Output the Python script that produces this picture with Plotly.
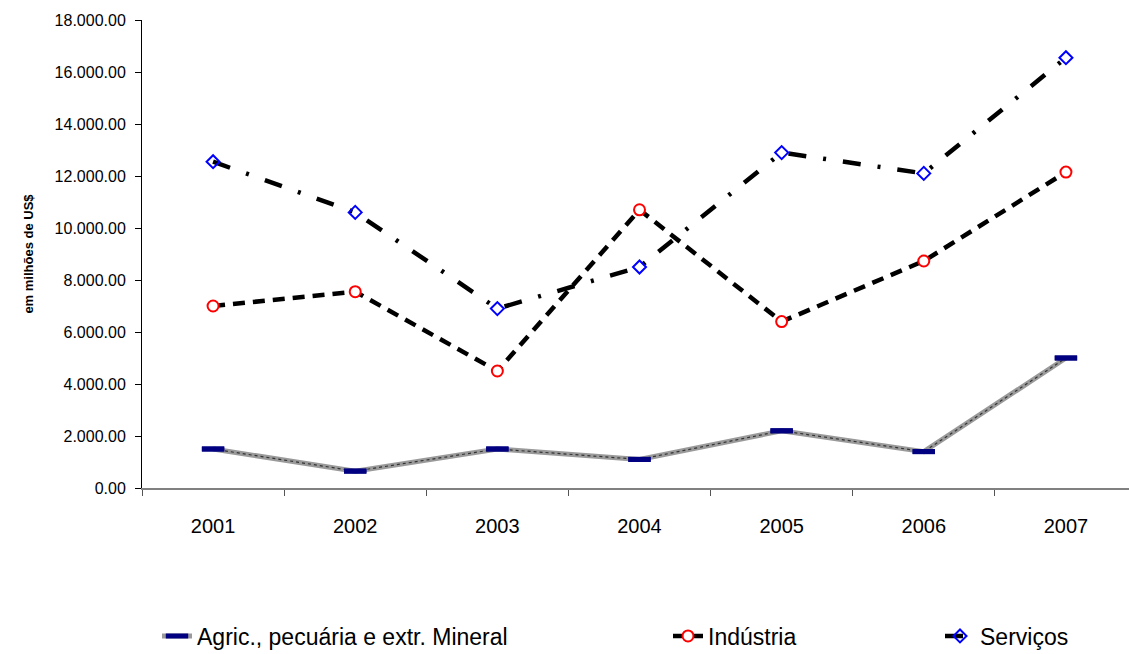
import plotly.graph_objects as go

years = ["2001", "2002", "2003", "2004", "2005", "2006", "2007"]
agric = [1500, 650, 1500, 1100, 2200, 1400, 5000]
industria = [7000, 7550, 4500, 10700, 6400, 8730, 12150]
servicos = [12550, 10600, 6900, 8500, 12900, 12100, 16550]

y_ticks = [0, 2000, 4000, 6000, 8000, 10000, 12000, 14000, 16000, 18000]
y_tick_text = ["0.00", "2.000.00", "4.000.00", "6.000.00", "8.000.00", "10.000.00",
               "12.000.00", "14.000.00", "16.000.00", "18.000.00"]

fig = go.Figure()

# Agric: grey outer line with dotted inner line
fig.add_trace(go.Scatter(
    x=years, y=agric, mode="lines+markers", name="Agric., pecuária e extr. Mineral",
    line=dict(color="#9a9a9a", width=5),
    marker=dict(symbol="line-ew", size=16, line=dict(color="#000080", width=5)),
    legend="legend",
))
fig.add_trace(go.Scatter(
    x=years, y=agric, mode="lines", showlegend=False, hoverinfo="skip",
    line=dict(color="#333333", width=1.2, dash="dot"),
))
fig.add_trace(go.Scatter(
    x=years, y=agric, mode="markers", showlegend=False, hoverinfo="skip",
    marker=dict(symbol="line-ew", size=16, line=dict(color="#000080", width=5)),
))

fig.add_trace(go.Scatter(
    x=years, y=industria, mode="lines+markers", name="Indústria",
    line=dict(color="black", width=4.5, dash="12px,8px"),
    marker=dict(symbol="circle", size=11, color="white", line=dict(color="#ff0000", width=2)),
    legend="legend2",
))

fig.add_trace(go.Scatter(
    x=years, y=servicos, mode="lines+markers", name="Serviços",
    line=dict(color="black", width=4.5, dash="18px,17px,3px,17px"),
    marker=dict(symbol="diamond-open", size=10, color="#0000ff", line=dict(color="#0000ff", width=2)),
    legend="legend3",
))

L, R, T, B = 142, 0, 20, 166
W, H = 1129, 654
pw = W - L - R
ph = H - T - B

def px_x(px):
    return (px - L) / pw

def px_y(py):
    return (H - B - py) / ph

legend_common = dict(
    orientation="h", yanchor="middle", xanchor="left",
    font=dict(family="Liberation Sans, Arial, sans-serif", size=23, color="black"),
    bgcolor="rgba(0,0,0,0)", itemwidth=30,
)

fig.update_layout(
    width=W, height=H,
    margin=dict(l=L, r=R, t=T, b=B, autoexpand=False),
    plot_bgcolor="white", paper_bgcolor="white",
    font=dict(family="Liberation Sans, Arial, sans-serif", color="black"),
    legend=dict(x=px_x(157), y=px_y(636), **legend_common),
    legend2=dict(x=px_x(668), y=px_y(636), **legend_common),
    legend3=dict(x=px_x(940), y=px_y(636), **legend_common),
    xaxis=dict(
        type="category", range=[-0.5, 6.5 - 8 / 142],
        tickson="boundaries", ticks="outside", ticklen=6, tickcolor="#555555",
        showline=True, linecolor="#808080", linewidth=1.5,
        showgrid=False, zeroline=False,
        tickfont=dict(size=20, color="black"),
        ticklabelstandoff=19,
    ),
    yaxis=dict(
        range=[0, 18000], tickvals=y_ticks, ticktext=y_tick_text,
        ticks="outside", ticklen=6, tickcolor="black",
        showline=True, linecolor="black", linewidth=1,
        showgrid=False, zeroline=False,
        tickfont=dict(size=16, color="black"),
        ticklabelstandoff=6,
        title=dict(text="<b>em milhões de US$</b>", font=dict(size=13, color="black"), standoff=18),
    ),
)

fig.write_html("out.html")
